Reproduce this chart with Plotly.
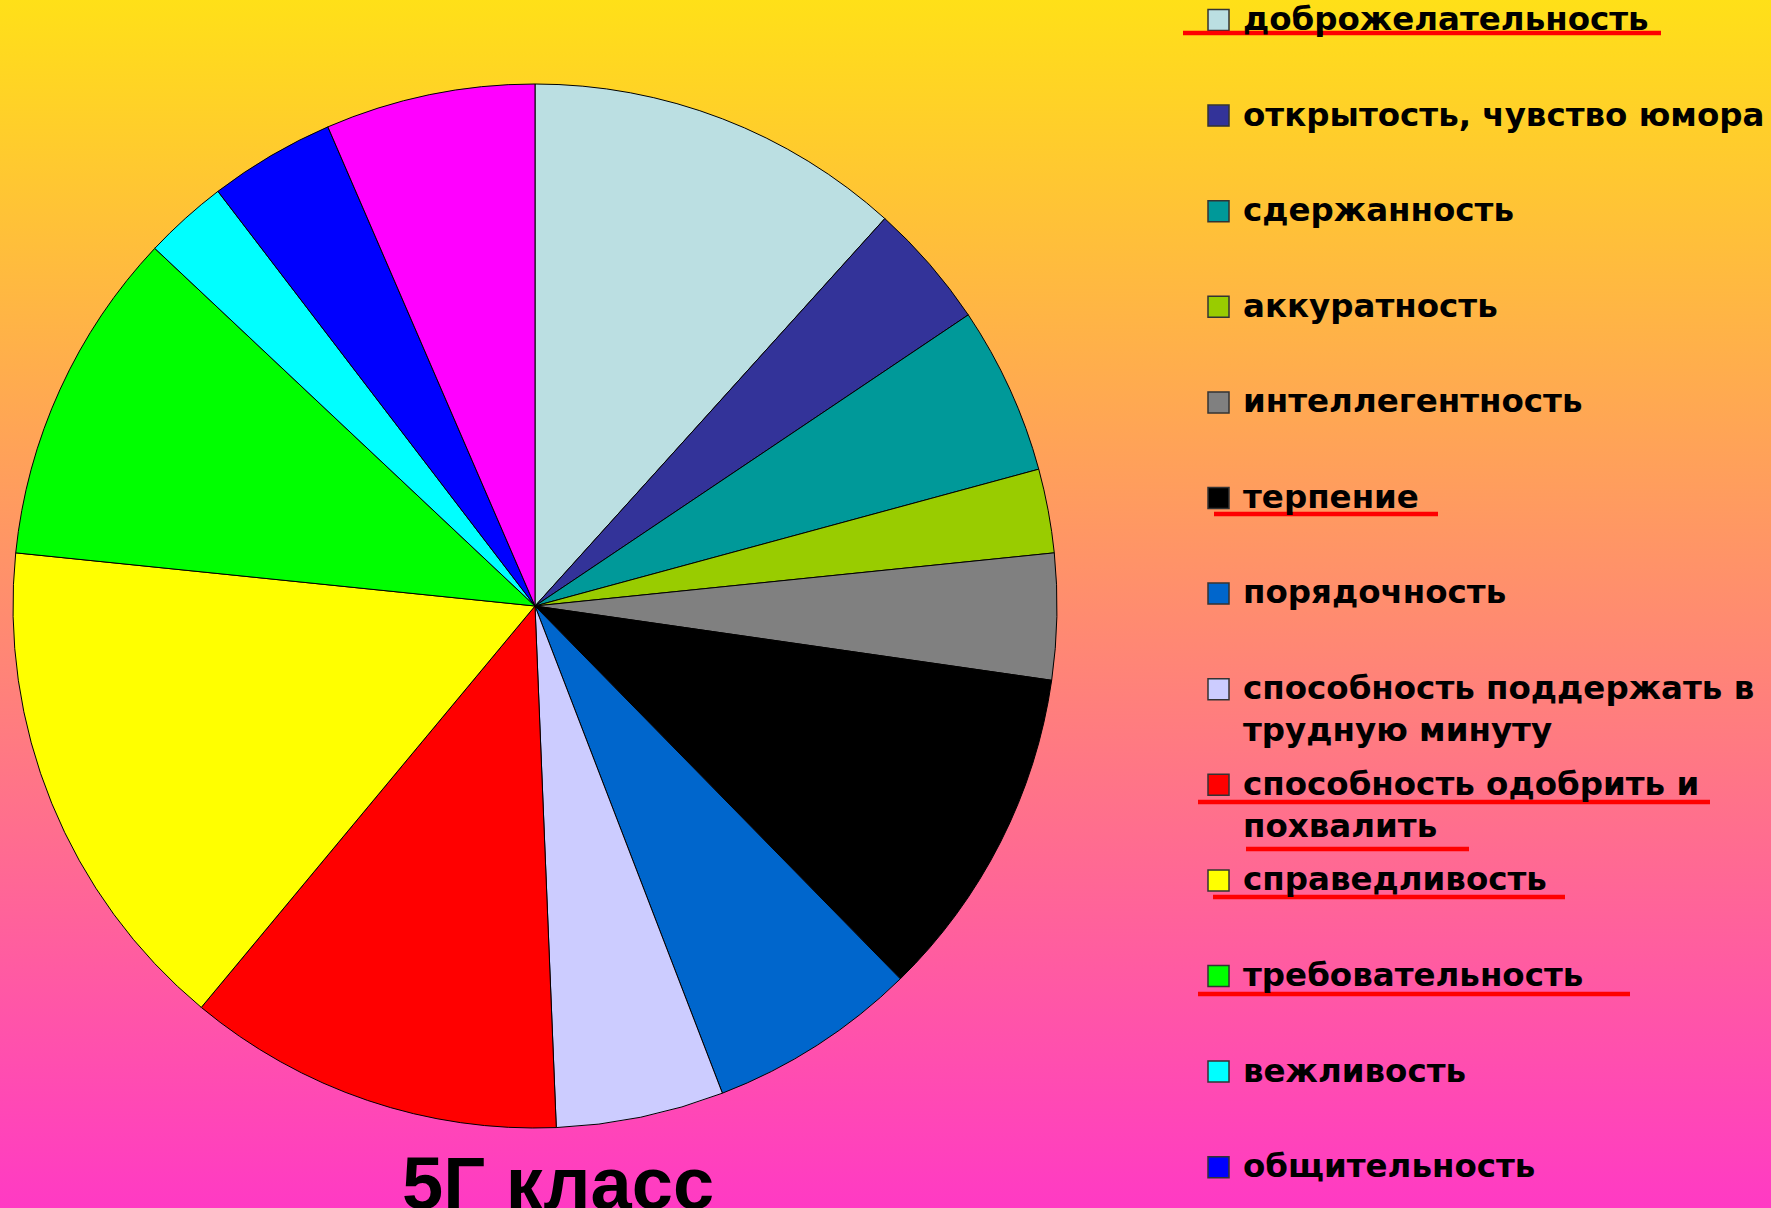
import base64
import plotly.graph_objects as go

# ---------------- data ----------------
labels = [
    "доброжелательность",
    "открытость, чувство юмора",
    "сдержанность",
    "аккуратность",
    "интеллегентность",
    "терпение",
    "порядочность",
    "способность поддержать в\nтрудную минуту",
    "способность одобрить и\nпохвалить",
    "справедливость",
    "требовательность",
    "вежливость",
    "общительность",
    "другое",
]
values = [9, 3, 4, 2, 3, 8, 5, 4, 9, 12, 8, 2, 3, 5]
colors = [
    "#BBDFE2", "#333399", "#009999", "#99CC00", "#808080", "#000000", "#0066CC",
    "#CCCCFF", "#FF0000", "#FFFF00", "#00FF00", "#00FFFF", "#0000FF", "#FF00FF",
]
legend_count = 13                      # legend shows the first 13 items
title_text = "5Г класс"

# ---------------- layout helpers ----------------
W, H = 1771, 1208
FONT = "Liberation Sans, Arial, sans-serif"
LEG_FONT = "DejaVu Sans, Verdana, sans-serif"


def px(x):
    return x / W


def py(y):
    return 1 - y / H


# background gradient as an svg image
svg = (
    f'<svg xmlns="http://www.w3.org/2000/svg" width="{W}" height="{H}" preserveAspectRatio="none">'
    '<defs><linearGradient id="g" x1="0" y1="0" x2="0" y2="1">'
    '<stop offset="0" stop-color="#FFE018"/>'
    '<stop offset="1" stop-color="#FF3AC4"/>'
    '</linearGradient></defs>'
    f'<rect x="0" y="0" width="{W}" height="{H}" fill="url(#g)"/></svg>'
)
bg_src = "data:image/svg+xml;base64," + base64.b64encode(svg.encode()).decode()

cx, cy, r = 535, 606, 522

fig = go.Figure(
    go.Pie(
        labels=[l.replace("\n", " ") for l in labels],
        values=values,
        sort=False,
        direction="clockwise",
        rotation=0,
        marker=dict(colors=colors, line=dict(color="#000000", width=1)),
        textinfo="none",
        hoverinfo="label+percent",
        showlegend=False,
        domain=dict(x=[px(cx - r), px(cx + r)], y=[py(cy + r), py(cy - r)]),
    )
)

shapes = []
annotations = []

# manual legend
row0, step = 20, 95.6
lx_box, box = 1208, 21
lx_text = 1241
fs = 32.5
for i in range(legend_count):
    yc = row0 + i * step
    shapes.append(dict(
        type="rect", xref="paper", yref="paper",
        x0=px(lx_box), x1=px(lx_box + box), y0=py(yc - box / 2), y1=py(yc + box / 2),
        fillcolor=colors[i], line=dict(color="#333333", width=1.5), layer="above",
    ))
    annotations.append(dict(
        text=labels[i].replace("\n", "<br>"), xref="paper", yref="paper",
        x=px(lx_text), y=py(yc - 0.68 * fs), xanchor="left", yanchor="top",
        align="left", showarrow=False,
        font=dict(family=LEG_FONT, size=fs, color="#000000", weight="bold"),
    ))

# red hand-drawn underlines (x0, x1, y) in pixels
red_lines = [
    (1183, 1661, 33),
    (1214, 1438, 514),
    (1198, 1710, 802),
    (1246, 1469, 849),
    (1213, 1565, 897),
    (1198, 1630, 994),
]
for x0, x1, y in red_lines:
    shapes.append(dict(
        type="line", xref="paper", yref="paper",
        x0=px(x0), x1=px(x1), y0=py(y), y1=py(y),
        line=dict(color="#FF0000", width=4.5),
    ))

annotations.append(dict(
    text=title_text, xref="paper", yref="paper",
    x=px(558), y=py(1183), xanchor="center", yanchor="middle", showarrow=False,
    font=dict(family=FONT, size=74, color="#000000", weight="bold"),
))

fig.update_layout(
    width=W, height=H,
    margin=dict(l=0, r=0, t=0, b=0),
    paper_bgcolor="#FF8E68",
    plot_bgcolor="rgba(0,0,0,0)",
    images=[dict(
        source=bg_src, xref="paper", yref="paper", x=0, y=1, sizex=1, sizey=1,
        xanchor="left", yanchor="top", sizing="stretch", layer="below",
    )],
    shapes=shapes,
    annotations=annotations,
    showlegend=False,
)

fig.write_html(
    "out.html",
    config=dict(displayModeBar=False),
    post_script="document.body.style.margin='0';document.body.style.overflow='hidden';",
)
